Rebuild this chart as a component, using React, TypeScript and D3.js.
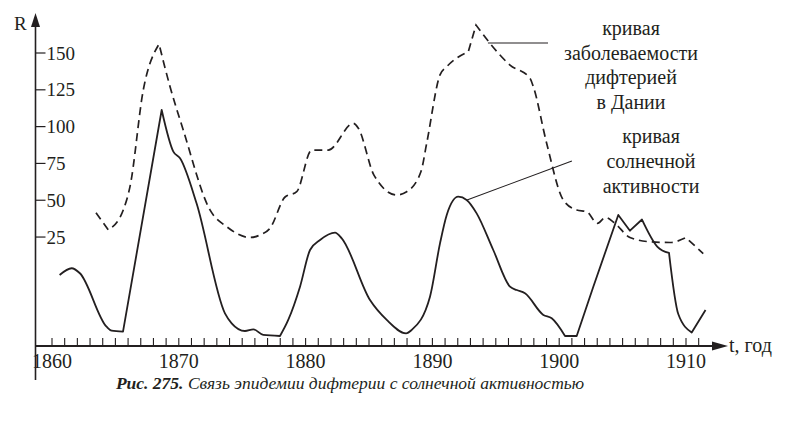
import React from "react";
import * as d3 from "d3";

// Solar activity curve (solid) — [year, R]
const solarYears = [1860.6, 1861.55, 1862.2, 1864.3, 1864.7, 1865.6, 1868.65, 1869.57, 1870.1, 1871.4, 1873.64, 1874.17, 1875.22, 1875.88, 1876.66, 1877.98, 1878.63, 1879.56, 1880.35, 1881.14, 1882.32, 1882.85, 1885.08, 1886.4, 1887.92, 1888.37, 1889.81, 1890.6, 1891.13, 1892.04, 1892.7, 1893.49, 1894.8, 1896.12, 1896.65, 1897.3, 1898.75, 1899.41, 1900.46, 1901.38, 1902.69, 1904.66, 1905.58, 1906.53, 1907.75, 1908.66, 1909.39, 1910.45, 1911.54];
const solarValues = [-0.8, 3.8, 0.4, -35.9, -38.6, -39.3, 111.3, 83, 78.5, 47.9, -26.8, -33.6, -38.8, -37.7, -41.5, -42.2, -31.3, -8.7, 16.2, 23, 28, 24.1, -17.8, -31.3, -40.4, -38.1, -15.5, 20.7, 40, 52.4, 50.2, 41.1, 16.2, -8.7, -11, -13.2, -27.9, -30.2, -42.2, -42.2, -8.7, 40, 29.3, 36.9, 18.4, 14.2, -27.3, -39.8, -24.5];
// indices of sharp corners (kinks) on the solar curve
const solarKinks = [5, 6, 15, 38, 39, 41, 42, 43, 45, 47];

// Diphtheria incidence in Denmark (dashed) — [year, R]
const diphYears = [1863.47, 1864.44, 1865.62, 1866.15, 1867.2, 1868.44, 1869.31, 1870.35, 1872.46, 1873.78, 1875.62, 1876.4, 1877.19, 1878.38, 1879.3, 1880.48, 1881.79, 1883.76, 1884.16, 1885.39, 1887.18, 1887.97, 1889.1, 1889.55, 1890.6, 1891.13, 1892.83, 1893.44, 1894.54, 1896.12, 1897.7, 1897.96, 1899.01, 1900.32, 1901.38, 1902.17, 1903.02, 1903.65, 1904.32, 1905.58, 1907.16, 1908.74, 1910.0, 1911.36];
const diphValues = [41.5, 29.8, 43.4, 59.2, 124.9, 156.1, 127.1, 97.7, 43.4, 32, 24.7, 26.4, 30.9, 52.2, 55.8, 84.1, 84.1, 102.2, 98.9, 67.1, 53.6, 55.8, 69.5, 88.7, 135.1, 140.7, 150.9, 169, 156.6, 141.8, 132.8, 127.1, 88.7, 50.2, 43.4, 42.2, 34.3, 38.3, 34.9, 24.7, 21.8, 21.3, 24.6, 13.7];
// indices of sharp corners on the diphtheria curve
const diphKinks = [1, 5, 26, 27, 42];

const yTickValues = [25, 50, 75, 100, 125, 150];
const xLabelYears = [1860, 1870, 1880, 1890, 1900, 1910];
const minorTickYears = d3.range(1860, 1912);

const diphLabel = ["кривая", "заболеваемости", "дифтерией", "в Дании"];
const solarLabel = ["кривая", "солнечной", "активности"];
const captionBold = "Рис. 275.";
const captionText = " Связь эпидемии дифтерии с солнечной активностью";

// annotation leader anchors in data units [year, R]
const diphLeader = [[1894.38, 156.8], [1899.12, 156.8]];
const solarLeader = [[1892.73, 50.2], [1901.0, 76.6]];

function splitAt<T>(pts: T[], kinks: number[]): T[][] {
  const cuts = [0, ...kinks, pts.length - 1];
  const out: T[][] = [];
  for (let i = 0; i < cuts.length - 1; i++) out.push(pts.slice(cuts[i], cuts[i + 1] + 1));
  return out;
}

export default function App() {
  const W = 793, H = 425;
  const x = d3.scaleLinear().domain([1860, 1910]).range([52, 686]);
  const y = d3.scaleLinear().domain([-49, 150]).range([346, 53]);
  const axisX = 35.5;
  const axisY = y(-49);
  const ink = "#231f20";
  const font = "Liberation Serif";

  const line = d3
    .line<[number, number]>()
    .x((d) => x(d[0]))
    .y((d) => y(d[1]))
    .curve(d3.curveMonotoneX);

  const solar = solarYears.map((yr, i) => [yr, solarValues[i]] as [number, number]);
  const diph = diphYears.map((yr, i) => [yr, diphValues[i]] as [number, number]);
  const solarPath = splitAt(solar, solarKinks).map((s) => line(s) || "").join("");
  const diphPath = splitAt(diph, diphKinks)
    .map((s, i) => {
      const d = line(s) || "";
      return i === 0 ? d : d.replace(/^M[^A-Za-z]*/, "");
    })
    .join("");
  const solarJoined = splitAt(solar, solarKinks)
    .map((s, i) => {
      const d = line(s) || "";
      return i === 0 ? d : d.replace(/^M[^A-Za-z]*/, "");
    })
    .join("");

  return (
    <svg width={W} height={H} style={{ position: "absolute", left: 0, top: 0, background: "#fff" }}>
      <rect width={W} height={H} fill="#fff" />
      {/* Y axis */}
      <line x1={axisX} y1={380} x2={axisX} y2={24} stroke={ink} strokeWidth={1.6} />
      <path d={`M${axisX},13 L${axisX - 4.5},27 L${axisX + 4.5},27 Z`} fill={ink} />
      <text x={14} y={30} fontFamily={font} fontSize={19} fill={ink}>R</text>
      {yTickValues.map((v) => (
        <g key={v}>
          <line x1={axisX} x2={axisX + 10} y1={y(v)} y2={y(v)} stroke={ink} strokeWidth={1.2} />
          <text x={axisX + 11} y={y(v)} dy="0.35em" fontFamily={font} fontSize={19} fill={ink}>{v}</text>
        </g>
      ))}
      {/* X axis */}
      <line x1={axisX} y1={axisY} x2={714} y2={axisY} stroke={ink} strokeWidth={2} />
      <path d={`M728,${axisY} L712,${axisY - 4.5} L712,${axisY + 4.5} Z`} fill={ink} />
      {minorTickYears.map((yr) => (
        <line key={yr} x1={x(yr)} x2={x(yr)} y1={axisY} y2={axisY - 8} stroke={ink} strokeWidth={1.1} />
      ))}
      {xLabelYears.map((yr) => (
        <text key={yr} x={x(yr)} y={368} textAnchor="middle" fontFamily={font} fontSize={20} fill={ink}>{yr}</text>
      ))}
      <text x={729} y={352} fontFamily={font} fontSize={20} fill={ink}>t, год</text>

      {/* curves */}
      <path d={diphPath} fill="none" stroke={ink} strokeWidth={1.7} strokeDasharray="8,5" strokeLinejoin="miter" />
      <path d={solarJoined || solarPath} fill="none" stroke={ink} strokeWidth={1.8} strokeLinejoin="round" />

      {/* annotations */}
      <line x1={x(diphLeader[0][0])} y1={y(diphLeader[0][1])} x2={x(diphLeader[1][0])} y2={y(diphLeader[1][1])} stroke={ink} strokeWidth={1.1} />
      <line x1={x(solarLeader[0][0])} y1={y(solarLeader[0][1])} x2={x(solarLeader[1][0])} y2={y(solarLeader[1][1])} stroke={ink} strokeWidth={1.1} />
      {diphLabel.map((t, i) => (
        <text key={i} x={631} y={35 + i * 24.5} textAnchor="middle" fontFamily={font} fontSize={20} fill={ink}>{t}</text>
      ))}
      {solarLabel.map((t, i) => (
        <text key={i} x={651} y={143 + i * 25} textAnchor="middle" fontFamily={font} fontSize={20} fill={ink}>{t}</text>
      ))}

      {/* caption */}
      <text x={350} y={389} textAnchor="middle" fontFamily={font} fontSize={17.5} fontStyle="italic" fill={ink}>
        <tspan fontWeight="bold">{captionBold}</tspan>
        <tspan>{captionText}</tspan>
      </text>
    </svg>
  );
}
